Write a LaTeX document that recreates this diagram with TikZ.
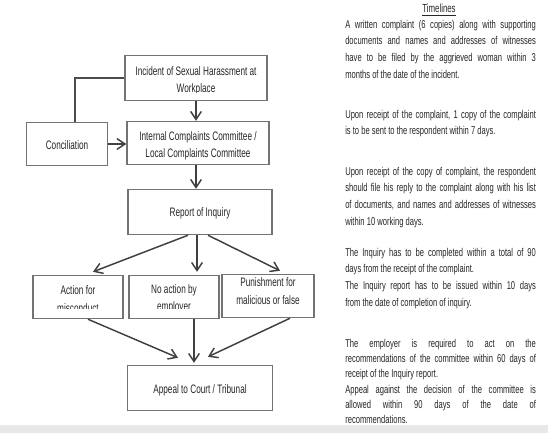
\documentclass[tikz,border=0pt]{standalone}
\usepackage{fontspec}
\setmainfont{Liberation Sans}[FakeStretch=0.67]
\usetikzlibrary{arrows.meta}

\tikzset{
  box/.style={draw=black!55, line width=1.1pt, inner sep=0pt},
  boxtext/.style={align=center, inner sep=0pt, font=\fontsize{9.2}{13}\selectfont, text=black!85},
  arr/.style={draw=black!75, line width=1.1pt, -{Straight Barb[length=6pt,width=8pt]}},
  para/.style={anchor=base west, text width=143pt, align=justify, inner sep=0pt,
    font=\fontsize{8.5}{12.6}\selectfont, text=black!85}
}

\begin{document}
\begin{tikzpicture}[x=0.75pt,y=-0.75pt]
\useasboundingbox (0,0) rectangle (548,433);
\fill[black!9] (0,425) rectangle (548,433);

% boxes
\node[box, minimum width=106.5pt, minimum height=33.75pt] (incident) at (196,78) {};
\node[box, minimum width=106.5pt, minimum height=32.25pt] (icc) at (198,143) {};
\node[box, minimum width=60.75pt, minimum height=32.25pt] (concil) at (67,144) {};
\node[box, minimum width=108pt, minimum height=33.75pt] (report) at (200,212) {};
\node[box, minimum width=67.5pt, minimum height=32.25pt] (action) at (78,297) {};
\node[box, minimum width=67.5pt, minimum height=32.25pt] (noaction) at (174,297) {};
\node[box, minimum width=69pt, minimum height=32.25pt] (punish) at (268,296) {};
\node[box, minimum width=108.75pt, minimum height=33.75pt] (appeal) at (200,388) {};

% box texts
\begin{scope}
  \clip ([shift={(0,-9)}]incident.south west) rectangle (incident.north east);
  \node[boxtext] (incidentlbl) at ([shift={(0,3)}]incident.center) {Incident of Sexual Harassment at\\Workplace};
\end{scope}
\node[boxtext] (icclbl) at ([shift={(0,3)}]icc.center) {Internal Complaints Committee /\\Local Complaints Committee};
\node[boxtext] (concillbl) at ([shift={(0,1)}]concil.center) {Conciliation};
\node[boxtext] (reportlbl) at ([shift={(0,1)}]report.center) {Report of Inquiry};
\begin{scope}
  \clip ([shift={(0,-11)}]action.south west) rectangle (noaction.north east);
  \node[boxtext] (actionlbl) at ([shift={(0,2)}]action.center) {Action for\\misconduct};
  \node[boxtext] (noactionlbl) at ([shift={(0,2)}]noaction.center) {No action by\\employer};
\end{scope}
\node[boxtext] (punishlbl) at ([shift={(0,-5)}]punish.center) {Punishment for\\malicious or false};
\node[boxtext] (appeallbl) at ([shift={(0,2)}]appeal.center) {Appeal to Court / Tribunal};

% connectors
\draw[draw=black!70, line width=0.9pt] ([shift={(8,0)}]concil.north) |- (incident.west);
\draw[arr] (incident.south) -- (icc.north -| incident.south);
\draw[arr] (concil.east) -- (icc.west |- concil.east);
\draw[arr] ([shift={(-2,0)}]icc.south) -- ([shift={(-4,0)}]report.north);
\draw[arr] ([shift={(-12,0)}]report.south) -- ([shift={(15,-3)}]action.north);
\draw[arr] ([shift={(-3,0)}]report.south) -- ([shift={(23,-3)}]noaction.north);
\draw[arr] ([shift={(8,0)}]report.south) -- ([shift={(12,-3)}]punish.north);
\draw[arr] ([shift={(10,0)}]action.south) -- ([shift={(-22,-7)}]appeal.north);
\draw[arr] ([shift={(20,0)}]noaction.south) -- ([shift={(-6,-2)}]appeal.north);
\draw[arr] ([shift={(22,0)}]punish.south) -- ([shift={(8,-8)}]appeal.north);

% timelines
\node[font=\fontsize{8.8}{10}\selectfont, text=black!85, inner sep=0pt] (title) at (439,10) {\underline{Timelines}};
\node[para] (step1) at (345,28) {A written complaint (6 copies) along with supporting\linebreak documents and names and addresses of witnesses\linebreak have to be filed by the aggrieved woman within 3\linebreak months of the date of the incident.};
\node[para] (step2) at (345,118) {Upon receipt of the complaint, 1 copy of the complaint\linebreak is to be sent to the respondent within 7 days.};
\node[para] (step3) at (345,175) {Upon receipt of the copy of complaint, the respondent\linebreak should file his reply to the complaint along with his list\linebreak of documents, and names and addresses of witnesses\linebreak within 10 working days.};
\node[para] (step4) at (345,256) {The Inquiry has to be completed within a total of 90\linebreak days from the receipt of the complaint.\\The Inquiry report has to be issued within 10 days\linebreak from the date of completion of inquiry.};
\node[para, font=\fontsize{8.5}{11.5}\selectfont] (step5) at (345,347) {The employer is required to act on the\linebreak recommendations of the committee within 60 days of\linebreak receipt of the Inquiry report.\\Appeal against the decision of the committee is\linebreak allowed within 90 days of the date of\linebreak recommendations.};

\end{tikzpicture}
\end{document}
